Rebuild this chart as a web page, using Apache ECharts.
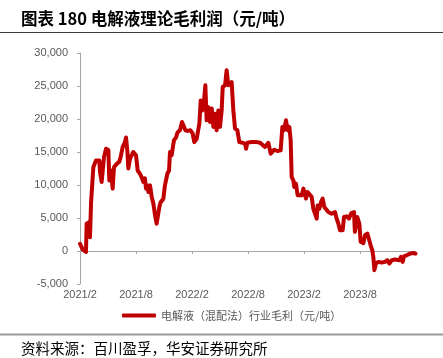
<!DOCTYPE html>
<html>
<head>
<meta charset="utf-8">
<script src="https://cdn.jsdelivr.net/npm/echarts@6/dist/echarts.min.js"></script>
<style>
html,body{margin:0;padding:0;background:#fff;}
#chart{width:443px;height:358px;}
</style>
</head>
<body>
<div id="chart"></div>
<script>
// months since 2021/2
var monthOffset = [0,0.3,0.64,0.71,1.0,1.07,1.18,1.3,1.43,1.71,2.07,2.14,2.32,2.5,2.57,2.79,3.04,3.14,3.32,3.5,3.64,3.93,4.2,4.36,4.57,4.82,4.93,5.07,5.18,5.36,5.5,5.71,6.0,6.18,6.43,6.6,6.79,6.96,7.07,7.21,7.32,7.5,7.68,7.86,8.04,8.21,8.39,8.5,8.64,8.93,9.1,9.29,9.36,9.54,9.64,9.82,10.0,10.07,10.29,10.46,10.71,10.93,11.1,11.29,11.54,11.82,12.07,12.25,12.5,12.79,12.93,13.11,13.29,13.43,13.57,13.75,13.93,14.11,14.29,14.46,14.64,14.82,15.0,15.18,15.29,15.54,15.71,15.89,16.07,16.25,16.43,16.61,16.86,17.07,17.43,17.68,17.79,17.93,18.39,18.93,19.29,19.82,20.18,20.43,20.79,21.14,21.5,21.68,21.86,22.07,22.25,22.43,22.57,22.68,22.86,22.96,23.14,23.32,23.75,23.93,24.11,24.21,24.36,24.57,24.82,25.0,25.18,25.36,25.46,25.64,25.82,26.0,26.18,26.36,26.6,26.96,27.32,27.5,27.68,27.86,28.14,28.29,28.57,28.82,29.07,29.36,29.45,29.6,29.71,29.93,30.07,30.36,30.54,30.79,31.0,31.14,31.32,31.43,31.54,31.71,31.96,32.3,32.68,32.93,33.14,33.4,33.75,33.93,34.2,34.39,34.57,34.71,35.0,35.36,35.71,35.95];
var grossProfit = [1100,200,-150,4150,4400,2100,7200,7200,12700,13700,13700,12000,10450,10450,14250,15500,15300,10700,12200,9450,12700,13200,13500,14250,15750,16500,17200,15250,12500,14000,13700,15000,14500,12200,11700,11200,10450,11000,9450,9950,8950,9950,8200,7200,5400,4150,4150,6650,7400,7900,9950,9700,11700,12200,15000,14500,14500,16800,17200,18000,18300,19550,19550,18300,18200,18300,17800,16500,17000,19300,22800,21300,22800,25100,19800,21800,19550,21600,18800,20800,18300,21300,18800,21300,24850,25100,27400,25100,25350,25600,21300,18550,18300,16500,16400,16250,15500,16400,16500,16500,16400,15750,16400,14750,15350,15150,15250,18800,18300,19800,18300,18800,16800,11200,10700,9700,10200,8450,8450,9450,9700,7950,8950,8700,8200,6400,6650,4900,6900,6400,7400,7950,6650,6900,5900,5650,5900,4900,4150,3150,3150,5150,5250,4900,5750,5900,2900,2900,5150,4150,1400,1200,2400,2650,2400,860,100,-900,-2900,-1900,-1650,-1750,-1650,-1400,-1900,-1400,-1300,-1000,-1400,-900,-1650,-800,-650,-400,-300,-400];
var xTickLabels = ['2021/2','2021/8','2022/2','2022/8','2023/2','2023/8','2024/2'];
var seriesName = '电解液（混配法）行业毛利（元/吨）';
var titleText = '图表 180 电解液理论毛利润（元/吨）';
var sourceText = '资料来源：百川盈孚，华安证券研究所';

var data = monthOffset.map(function(m, i){ return [m, grossProfit[i]]; });
var chart = echarts.init(document.getElementById('chart'), null, {renderer:'canvas'});
var axisGray = '#a6a6a6';
var labelGray = '#595959';
chart.setOption({
  animation: false,
  backgroundColor: '#fff',
  grid: {left: 80, right: 27, top: 53, bottom: 74},
  xAxis: {
    type: 'value', min: 0, max: 36, interval: 6,
    axisLine: {onZero: true, lineStyle: {color: axisGray, width: 1}},
    axisTick: {show: true, length: 3, lineStyle: {color: axisGray}},
    splitLine: {show: false},
    axisLabel: {
      color: labelGray, fontSize: 11, fontFamily: 'Liberation Sans, Arial', margin: 5,
      showMaxLabel: false,
      formatter: function(v){ return xTickLabels[Math.round(v/6)] || ''; }
    }
  },
  yAxis: {
    type: 'value', min: -5000, max: 30000, interval: 5000,
    axisLine: {show: true, onZero: false, lineStyle: {color: axisGray, width: 1}},
    axisTick: {show: true, length: 3, lineStyle: {color: axisGray}},
    splitLine: {show: false},
    axisLabel: {
      color: labelGray, fontSize: 11, fontFamily: 'Liberation Sans, Arial', margin: 12,
      formatter: function(v){ return v.toLocaleString('en-US'); }
    }
  },
  legend: {
    left: 117, top: 305,
    icon: 'roundRect', itemWidth: 34, itemHeight: 4, itemGap: 10,
    textStyle: {color: labelGray, fontSize: 11, fontFamily: 'Noto Sans CJK SC'},
    data: [seriesName]
  },
  series: [{
    name: seriesName, type: 'line', data: data,
    showSymbol: false, symbol: 'none',
    lineStyle: {color: '#C00000', width: 4, join: 'round', cap: 'round'},
    itemStyle: {color: '#C00000'}
  }],
  graphic: [
    {type: 'text', left: 21, top: 10, style: {text: titleText, fill: '#000', fontSize: 16.5, fontWeight: 'bold', fontFamily: 'Noto Sans CJK SC'}},
    {type: 'line', shape: {x1: 0, y1: 32.5, x2: 443, y2: 32.5}, style: {stroke: '#404040', lineWidth: 1}},
    {type: 'line', shape: {x1: 0, y1: 334.5, x2: 443, y2: 334.5}, style: {stroke: '#9a9a9a', lineWidth: 2}},
    {type: 'text', left: 21, top: 341, style: {text: sourceText, fill: '#000', fontSize: 14.5, fontFamily: 'Noto Sans CJK SC'}}
  ]
});
</script>
</body>
</html>
